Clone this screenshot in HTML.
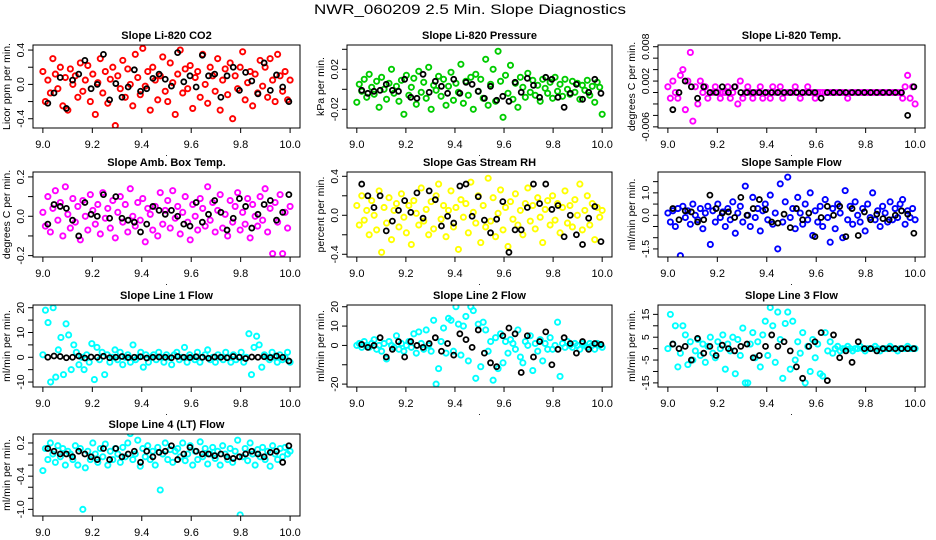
<!DOCTYPE html>
<html><head><meta charset="utf-8"><style>
html,body{margin:0;padding:0;background:#fff;}
svg{display:block;font-family:"Liberation Sans",Arial,sans-serif;}
</style></head><body>
<svg id="chart" width="936" height="540" viewBox="0 0 936 540">
<text x="470" y="14" text-anchor="middle" font-size="14" textLength="312" lengthAdjust="spacingAndGlyphs">NWR_060209  2.5 Min. Slope Diagnostics</text>
</svg>
<script>
const xTicks=[9.0,9.2,9.4,9.6,9.8,10.0];
const co2Color=[.15,-.2,.05,-.1,.3,.12,-.05,.2,-.25,.08,-.3,.18,0,.1,-.15,.25,-.08,.05,.22,-.2,.12,-.35,.02,.3,-.1,.15,-.22,.06,.2,-.48,.1,-.05,.28,-.15,.18,0,-.25,.35,.08,-.12,.42,-.02,.15,-.3,.2,.05,-.18,.1,.32,-.08,-.2,.25,.02,-.35,.12,.4,-.1,.18,-.05,.22,-.28,.08,.15,-.15,.35,0,-.22,.2,.1,-.08,.3,-.3,.05,.18,-.12,.25,-.4,.1,-.05,.2,.38,-.18,.02,.15,-.25,.12,-.1,.28,-.02,.2,-.15,.3,.05,-.2,.35,.1,-.08,.15,-.18,.05];
const co2Black=[-.22,-.1,.08,-.28,.05,.12,.28,-.05,0,.35,-.18,.01,-.15,-.03,.17,-.08,-.05,.07,.12,.06,-.02,.37,.03,.1,-.03,.34,.1,.12,-.15,.1,.2,-.07,.14,.04,-.11,.25,-.07,.11,-.03,-.2];
const presColor=[-.013,.005,-.002,.01,-.008,.015,.002,-.005,.008,-.018,.012,0,-.01,.006,.02,-.004,.003,-.012,.009,-.025,.014,-.006,.002,.011,-.015,.018,-.003,.007,-.009,.022,-.02,.004,-.001,.013,-.007,.01,-.016,.003,.017,-.011,.006,-.003,.025,-.014,.008,-.006,.012,-.02,.015,-.002,.01,-.009,.03,-.016,.005,.02,-.012,.038,.008,-.028,.014,-.004,.024,-.01,.006,-.018,.012,.002,-.008,.016,-.003,.009,-.006,.004,-.012,.01,.001,-.004,.007,-.009,.012,-.002,.005,-.007,.01,0,-.005,.008,-.003,.006,-.01,.004,-.001,.009,-.006,.003,-.013,.007,.002,-.025];
const presBlack=[-.001,-.004,-.002,-.001,.005,-.001,-.002,.01,-.008,-.009,.015,-.003,.008,.003,-.004,.01,-.004,.007,.005,-.002,-.009,.003,-.011,-.007,-.012,.007,-.003,.011,.004,-.008,.012,.01,-.008,-.018,-.004,.005,-.01,-.003,.01,-.004];
const tempColor=[.001,-.001,.002,0,-.001,.003,.004,-.003,.002,.007,-.005,.001,-.002,.002,0,.001,-.001,0,0,.001,0,-.001,0,0,.001,-.001,0,.001,-.002,.002,-.001,0,.001,0,-.001,0,0,.001,-.001,0,0,-.001,.001,0,0,.001,-.001,0,0,0,0,.001,0,-.001,0,0,.001,0,0,-.001,0,0,0,0,0,0,0,0,0,0,0,0,-.001,0,0,0,0,0,0,0,0,0,0,0,0,0,0,0,0,0,0,0,0,0,-.001,.001,.003,-.001,.001,-.002];
const tempBlack=[-.003,0,.002,.001,-.001,.001,0,0,.001,0,.001,0,0,0,0,0,0,0,0,0,0,0,0,0,-.001,0,0,0,0,0,0,0,0,0,0,0,0,0,-.004,.001];
const ambColor=[.02,-.05,.1,-.08,.04,.13,-.02,.07,-.1,.15,.01,-.06,.09,-.03,.05,-.12,.08,0,-.07,.11,.03,-.04,.06,-.09,.12,-.01,.04,-.06,.08,-.11,.02,.1,-.03,.06,-.08,.14,0,-.05,.07,-.02,.09,-.13,.04,.01,-.07,.05,-.1,.12,-.04,.03,.08,-.06,.13,-.01,.05,-.09,.02,.1,-.03,-.12,.06,0,-.07,.09,.04,-.05,.15,-.02,.07,-.08,.03,.11,-.06,.01,-.1,.08,-.03,.05,.12,-.07,.02,-.04,.09,-.11,.06,0,-.05,.1,-.02,.14,-.08,.04,-.19,.07,-.03,.11,-.19,.02,-.06,.05];
const ambBlack=[-.04,.06,.05,.04,-.02,-.1,.07,.01,0,.11,-.01,.1,-.01,-.02,-.03,-.08,-.04,.05,.03,.01,.03,0,-.04,-.05,.07,-.03,.01,.08,.02,-.07,-.01,.09,.05,-.06,.01,.06,.08,-.02,.02,.11];
const rhColor=[.1,-.1,.2,-.05,.05,-.2,.15,0,-.15,.25,-.38,.08,-.08,.18,-.25,.05,.12,-.12,.22,-.02,-.18,.1,-.3,.15,.02,-.1,.28,-.06,.06,-.2,.14,-.14,.2,.32,-.04,.1,-.22,.05,.25,-.12,.08,-.35,.16,-.02,.12,-.18,.34,.03,-.08,.2,-.28,.1,-.12,.38,-.06,.18,-.22,.02,.26,-.15,.08,-.32,.14,-.04,.22,-.1,.05,-.2,.12,.28,-.06,.1,-.14,.18,-.02,-.28,.06,.15,-.1,.2,-.05,.12,-.18,.08,.25,-.08,.1,-.12,.16,0,.32,-.15,.05,.2,-.1,.12,-.25,.08,-.02,.05];
const rhBlack=[.32,.2,.08,.2,-.16,-.06,.05,.15,.03,.23,-.03,.25,.16,-.11,-.01,-.08,.3,.32,-.01,.19,-.05,-.18,-.04,.14,-.38,-.15,-.15,.08,.32,.12,.32,.06,.1,-.22,0,-.2,-.3,-.03,.09,-.27];
const flowColor=[.1,-.3,.2,-.5,.3,-1.8,.4,-.1,.2,-.4,.5,0,-.2,.3,-.6,.1,.4,-1.3,.2,-.3,.5,-.1,.15,-.5,.3,-.2,.6,-.8,.1,.4,-.3,1.3,0,-.5,.8,-.1,.3,-.7,.2,.5,-.2,.9,-.4,.1,-1.5,1.4,-.3,.6,1.7,-.1,.3,-.6,.8,.1,-.4,.5,-.2,1.0,-.9,.2,-.3,.4,-.5,.7,-.1,-1.2,.3,-.6,.5,.1,-1.0,1.1,-.2,.4,-.4,.6,0,-.3,.3,-.7,.5,-.1,1.0,-.2,.2,-.5,.4,.1,-.3,.6,-.2,.3,-.1,.5,.7,-.4,.2,-.1,.3,-.2];
const flowBlack=[.3,-.2,.2,.15,-.3,-.2,.9,.3,.1,.15,-.1,.8,0,.3,.7,.25,-.3,-.35,.05,-.55,.3,-.2,.1,-.95,-.1,.4,0,.4,-.95,.3,-.9,.15,-.2,.05,-.15,-.2,0,.2,.05,-.8];
const line1Color=[1,19,14,-10,20,-8,3,8,-7,13.5,9,-5,5,2,-3,0,-5,1,-2,5.5,-9,4,-1,2,-7,1,-2,0,3,-1,2,-3,0,1,-2,5,-1,0,2,-4,1,-2,0,1,-1,2,0,-2,1,0,-3,1,2,-1,0,4,-2,1,0,-1,2,-2,0,1,3,-1,0,-2,1,0,-1,2,0,-2,1,-1,0,2,-2,0,9.5,-7,4,8.5,5,-4,1,0,-1,2,0,-2,1,-1,0,2,-2];
const line1Black=[0,.5,.3,-.2,0,.5,-.3,.1,0,.4,-.2,0,.3,-.1,0,.2,-.3,0,.1,0,-.2,.3,0,-.1,.2,0,-.4,.1,0,-.2,.3,0,-.5,.1,0,.2,-.1,.5,0,-1.5];
const line2Color=[0,1,-1,2,0,-1,1,3,-2,0,-3,1,-7,2,0,-1,5,-2,1,-3,0,2,-1,6,-4,7,1,-2,8,0,-3,13,-20,-12,2,9,-4,14,13,-3,20,11,-5,10,15,-8,20,18,-17,11,-11,12,8,-3,2,-18,4,-12,6,-9,2,-4,3,1,-2,8,-6,-9,2,0,5,-13,1,-3,3,-8,1,-2,4,-2,0,12,-16,1,-1,2,0,-1,1,0,-2,1,0,-1,1,0,-2,1,0,-1];
const line2Black=[.5,-1,0,4,-6,-2,2,-6,2,0,-1,1,4,-3,1,-5,6,3,-1,8,-4,-9,-11,5,9,6,-14,5,-6,2,7,-10,-2,4,1,-4,2,-2,1,.5];
const line3Color=[0,15,2,10,-8,-2,10,6,-7,3,-5,-1,4,-3,2,-6,1,5,-2,-4,3,0,6,-9,2,-1,5,-11,4,-3,9,-15,-15,2,7,-4,3,-8,6,12,-3,18,10,-6,16,4,-13,11,16,-9,12,-5,3,-2,7,-15,1,-10,4,-4,2,-11,-12,7,-1,3,-2,0,1,-1,0,0,1,0,-1,0,0,1,0,-1,0,0,0,1,0,-1,0,0,0,1,0,0,-1,0,0,0,1,0,0,0];
const line3Black=[2,0,1,-5,4.5,-2,1,-3,1.5,0,-1,1,2,-4,-3,1,6,1,3,-1,-8,-13,1,3,7,-14,6,-4,-1,-6,3,0,0,-1,0,0,0,0,0,0];
const line4Color=[-.3,.1,-.1,.2,0,-.15,.15,-.05,.1,-.2,.05,0,-.1,.15,-.2,.1,-1.0,-.25,.05,-.1,.2,0,-.15,.1,-.05,.18,-.2,.05,-.1,.1,0,-.15,.12,-.05,.2,.37,-.1,0,.25,-.22,.1,-.05,.15,-.1,.05,-.2,.12,-.65,0,.2,-.1,.08,-.15,.05,.1,-.05,.2,-.12,0,.15,-.2,.05,-.1,.22,-.05,.1,-.18,0,.12,-.08,.05,-.2,.15,0,-.1,.1,-.15,.05,.25,-1.1,-.05,.1,-.12,.2,0,-.2,.08,-.05,.12,-.1,.05,-.22,.15,0,-.1,.1,-.05,.12,0,.05];
const line4Black=[.1,.05,0,0,-.05,.05,0,-.05,-.1,.1,-.1,.1,-.05,0,.05,-.15,.05,-.05,.03,.05,.15,-.1,0,.12,.05,0,0,-.03,0,-.05,-.08,-.05,0,.05,0,-.05,.03,.05,-.15,.15];

const cols=[[33,300],[347,612],[658,925]];
const rowTop=[45,172,305,434], rowBot=[128,257,387,516];
const panels=[
 {id:'co2',t:'Slope Li-820 CO2',yl:'Licor ppm per min.',c:'#ff0000',r:0,k:0,yt:.459,yb:-.508,ticks:[-.4,-.2,0,.2,.4],labs:['-0.4','0.0','0.4'],lv:[-.4,0,.4],col:co2Color,blk:co2Black},
 {id:'pressure',t:'Slope Li-820 Pressure',yl:'kPa per min.',c:'#00cc00',r:0,k:1,yt:.0443,yb:-.0387,ticks:[-.02,0,.02,.04],labs:['-0.02','0.02'],lv:[-.02,.02],col:presColor,blk:presBlack},
 {id:'temp',t:'Slope Li-820 Temp.',yl:'degrees C per min.',c:'#ff00ff',r:0,k:2,yt:.0083,yb:-.0062,ticks:[-.006,-.004,-.002,0,.002,.004,.006,.008],labs:['-0.006','0.002','0.008'],lv:[-.006,.002,.008],col:tempColor,blk:tempBlack},
 {id:'amb-box-temp',t:'Slope Amb. Box Temp.',yl:'degrees C per min.',c:'#ff00ff',r:1,k:0,yt:.225,yb:-.207,ticks:[-.2,-.1,0,.1,.2],labs:['-0.2','0.0','0.2'],lv:[-.2,0,.2],col:ambColor,blk:ambBlack},
 {id:'gas-stream-rh',t:'Slope Gas Stream RH',yl:'percent per min.',c:'#ffff00',r:1,k:1,yt:.444,yb:-.428,ticks:[-.4,-.2,0,.2,.4],labs:['-0.4','0.0','0.4'],lv:[-.4,0,.4],col:rhColor,blk:rhBlack},
 {id:'sample-flow',t:'Slope Sample Flow',yl:'ml/min per min.',c:'#0000ff',r:1,k:2,yt:1.93,yb:-1.86,ticks:[-1.5,-1,-.5,0,.5,1,1.5],labs:['-1.5','0.0','1.0'],lv:[-1.5,0,1],col:flowColor,blk:flowBlack},
 {id:'line1-flow',t:'Slope Line 1 Flow',yl:'ml/min per min.',c:'#00ffff',r:2,k:0,yt:21.1,yb:-12,ticks:[-10,-5,0,5,10,15,20],labs:['-10','0','10','20'],lv:[-10,0,10,20],col:line1Color,blk:line1Black},
 {id:'line2-flow',t:'Slope Line 2 Flow',yl:'ml/min per min.',c:'#00ffff',r:2,k:1,yt:20.9,yb:-21.5,ticks:[-20,-10,0,10,20],labs:['-20','0','10','20'],lv:[-20,0,10,20],col:line2Color,blk:line2Black},
 {id:'line3-flow',t:'Slope Line 3 Flow',yl:'ml/min per min.',c:'#00ffff',r:2,k:2,yt:19.1,yb:-16.8,ticks:[-15,-10,-5,0,5,10,15],labs:['-15','-5','5','15'],lv:[-15,-5,5,15],col:line3Color,blk:line3Black},
 {id:'line4-flow',t:'Slope Line 4 (LT) Flow',yl:'ml/min per min.',c:'#00ffff',r:3,k:0,yt:.362,yb:-1.12,ticks:[-1,-.8,-.6,-.4,-.2,0,.2],labs:['-1.0','-0.4','0.2'],lv:[-1,-.4,.2],col:line4Color,blk:line4Black}
];
const NS='http://www.w3.org/2000/svg';
const svg=document.getElementById('chart');
function mk(tag,attrs,parent){const e=document.createElementNS(NS,tag);for(const a in attrs)e.setAttribute(a,attrs[a]);parent.appendChild(e);return e;}
panels.forEach(p=>{
 const L=cols[p.k][0],R=cols[p.k][1],T=rowTop[p.r],B=rowBot[p.r],W=R-L;
 const xs=v=>L+0.037*W+(v-9)*(W/1.08);
 const ys=v=>T+(p.yt-v)/(p.yt-p.yb)*(B-T);
 const g=mk('g',{},svg);
 
 
 const tt=mk('text',{x:(L+R)/2,y:T-6,'text-anchor':'middle','font-size':11,'font-weight':'bold'},g);
 tt.textContent=p.t;
 
 
 const cl='clip-'+p.id;
 const cp=mk('clipPath',{id:cl},g);mk('rect',{x:L,y:T,width:W,height:B-T},cp);
 const pts=mk('g',{'clip-path':'url(#'+cl+')'},g);
 
 
 p.col.forEach((v,i)=>{
  const c=mk('circle',{cx:xs(9+i/(p.col.length-1)),cy:ys(v),r:2.6,fill:'none',stroke:p.c,'stroke-width':1.9},pts);
  
  
 });
 p.blk.forEach((v,i)=>{
  const c=mk('circle',{cx:xs(9.02+i*0.975/(p.blk.length-1)),cy:ys(v),r:2.5,fill:'none',stroke:'#000','stroke-width':1.8},pts);
  
  
 });
 const box=mk('rect',{x:L,y:T,width:W,height:B-T,fill:'none',stroke:'#000','stroke-width':1},g);
 
 
 xTicks.forEach(v=>{
  mk('line',{x1:xs(v),x2:xs(v),y1:B,y2:B+5,stroke:'#000'},g);
  const lt=mk('text',{x:xs(v),y:B+20,'text-anchor':'middle','font-size':11},g);
  lt.textContent=v.toFixed(1);
  
  
 });
 p.ticks.forEach(v=>{mk('line',{x1:L-5,x2:L,y1:ys(v),y2:ys(v),stroke:'#000'},g);});
 p.lv.forEach((v,i)=>{
  const yy=ys(v);
  const lt=mk('text',{x:L-9,y:yy,'text-anchor':'middle','font-size':10.5,transform:'rotate(-90 '+(L-9)+' '+yy+')'},g);
  lt.textContent=p.labs[i];
  
  
 });
 const yc=(T+B)/2, yx=L-23;
 const yt=mk('text',{x:yx,y:yc,'text-anchor':'middle','font-size':10.5,transform:'rotate(-90 '+yx+' '+yc+')'},g);
 yt.textContent=p.yl;
 
 
 const xd=mk('text',{x:(L+R)/2,y:B+28,'text-anchor':'middle','font-size':9},g);
 xd.textContent='.';
 
 
});
</script>
</body></html>
